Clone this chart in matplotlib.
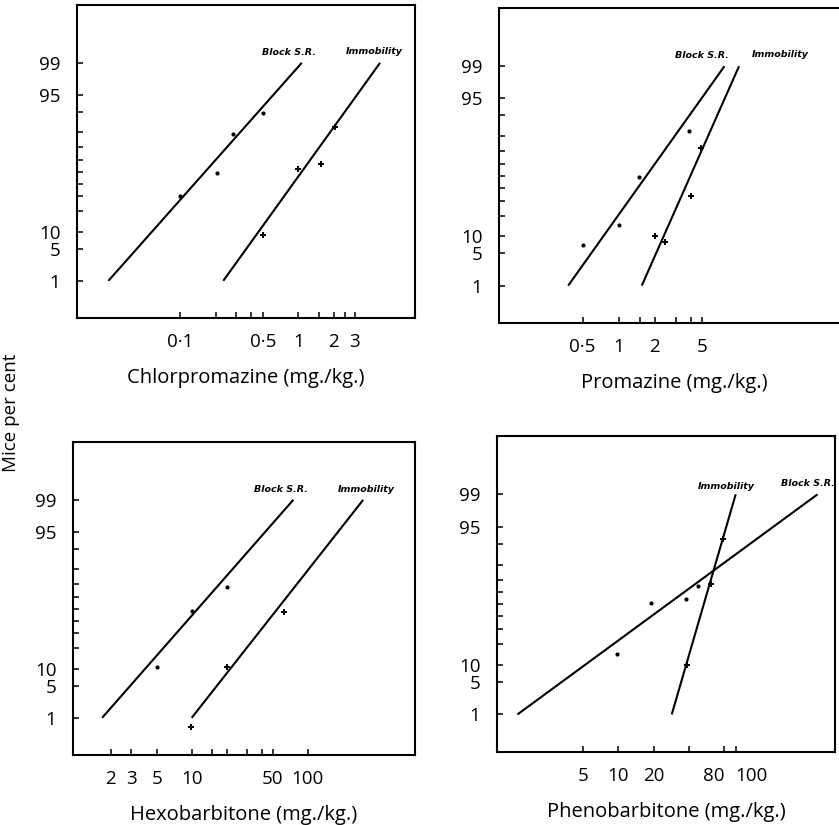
import numpy as np
import matplotlib
matplotlib.use("Agg")
import matplotlib.pyplot as plt
from matplotlib.ticker import FixedLocator, FixedFormatter, NullFormatter
from statistics import NormalDist

# ---------------- data ----------------
drugs = ["Chlorpromazine (mg./kg.)", "Promazine (mg./kg.)",
         "Hexobarbitone (mg./kg.)", "Phenobarbitone (mg./kg.)"]

# fitted lines (dose at 1 % and 99 %)
block_line_x = [[0.0248, 1.07], [0.38, 7.63], [1.69, 75.2], [1.38, 498.0]]
immob_line_x = [[0.232, 4.91], [1.56, 10.1], [10.0, 301.0], [28.5, 100.0]]
line_y = [1, 99]

# observed points
block_pts_x = [[0.1, 0.207, 0.28, 0.5], [0.5, 1.01, 1.48, 3.85],
               [5, 10, 20], [9.7, 18.8, 38, 47.8]]
block_pts_y = [[30, 49, 79, 89.4], [7, 15, 49, 83],
               [10.8, 48, 68], [14.8, 50.8, 54.8, 65]]
immob_pts_x = [[0.5, 1.0, 1.56, 2.04], [2.0, 2.45, 4.0, 4.82],
               [9.8, 20, 62.5], [38.7, 61.3, 78]]
immob_pts_y = [[8.9, 52, 57, 83], [10, 7.9, 33.7, 72],
               [0.6, 10.6, 47], [9.9, 67, 91.5]]

# axis ticks
x_major = [[0.1, 0.5, 1, 2, 3], [0.5, 1, 2, 5], [2, 3, 5, 10, 50, 100], [5, 10, 20, 80, 100]]
x_labels = [["0·1", "0·5", "1", "2", "3"], ["0·5", "1", "2", "5"],
            ["2", "3", "5", "10", "50", "100"], ["5", "10", "20", "80", "100"]]
x_minor = [[0.2, 0.3, 0.4, 1.5, 2.5], [1.5, 3, 4], [15, 20, 30, 40], [40]]
y_major = [1, 5, 10, 95, 99]
y_labels = ["1", "5", "10", "95", "99"]
y_minor = [20, 30, 40, 50, 60, 70, 80, 90]
ylabel = "Mice per cent"
block_name = "Block S.R."
immob_name = "Immobility"

# ---------------- layout ----------------
W, H = 839, 825
fig = plt.figure(figsize=(W / 100, H / 100), dpi=100)
plt.rcParams['font.family'] = ['Open Sans', 'DejaVu Sans']

# axes boxes in pixels: left, right, top, bottom
boxes = [(77, 415, 5, 318), (499, 850, 8, 323), (73, 415, 442, 755), (497, 835, 436, 752)]
xlims = [(0.01346, 9.69), (0.1006, 85.0), (0.948, 841.0), (0.924, 702.0)]
# horizontal alignment of individual x tick labels (crowded ones nudged apart)
x_label_ha = [None, None, None, ['center', 'center', 'center', 'right', 'left']]

nd = NormalDist()


def fwd(y):
    y = np.asarray(y, dtype=float)
    p = np.clip(y / 100.0, 1e-9, 1 - 1e-9)
    out = np.full(p.shape, np.nan)
    ok = np.isfinite(p)
    out[ok] = [nd.inv_cdf(v) for v in p[ok]]
    return out


def inv(z):
    z = np.asarray(z, dtype=float)
    out = np.full(z.shape, np.nan)
    ok = np.isfinite(z)
    out[ok] = [nd.cdf(v) * 100.0 for v in z[ok]]
    return out


ylim = (nd.cdf(-3.12) * 100, nd.cdf(3.56) * 100)

# label offsets (points) relative to line top ends
block_off = [(-9, 4, 'center'), (-16, 4.5, 'center'), (-9, 4.5, 'center'), (-26, 4.5, 'left')]
immob_off = [(-4, 5, 'center'), (30, 5, 'center'), (2.5, 4.5, 'center'), (-7, 2.5, 'center')]

for i in range(4):
    l, r, t, b = boxes[i]
    ax = fig.add_axes([l / W, 1 - b / H, (r - l) / W, (b - t) / H])
    ax.set_xscale('log')
    ax.set_yscale('function', functions=(fwd, inv))
    ax.set_xlim(*xlims[i])
    ax.set_ylim(*ylim)

    ax.plot(block_line_x[i], line_y, color='black', lw=1.5, solid_capstyle='butt')
    ax.plot(immob_line_x[i], line_y, color='black', lw=1.5, solid_capstyle='butt')
    ax.plot(block_pts_x[i], block_pts_y[i], 'o', color='black', ms=3.0, mew=0)
    ax.plot(immob_pts_x[i], immob_pts_y[i], 'P', color='black', ms=4.5, mew=0)

    dx, dy, ha = block_off[i]
    ax.annotate(block_name, xy=(block_line_x[i][1], line_y[1]), xytext=(dx, dy),
                textcoords='offset points', ha=ha, va='bottom', fontsize=6.8,
                fontweight='bold', fontstyle='italic', family='DejaVu Sans',
                annotation_clip=False, clip_on=True)
    dx, dy, ha = immob_off[i]
    ax.annotate(immob_name, xy=(immob_line_x[i][1], line_y[1]), xytext=(dx, dy),
                textcoords='offset points', ha=ha, va='bottom', fontsize=6.8,
                fontweight='bold', fontstyle='italic', family='DejaVu Sans',
                annotation_clip=False, clip_on=True)

    ax.xaxis.set_major_locator(FixedLocator(x_major[i]))
    ax.xaxis.set_major_formatter(FixedFormatter(x_labels[i]))
    ax.xaxis.set_minor_locator(FixedLocator(x_minor[i]))
    ax.xaxis.set_minor_formatter(NullFormatter())
    ax.yaxis.set_major_locator(FixedLocator(y_major))
    ax.yaxis.set_major_formatter(FixedFormatter(y_labels))
    ax.yaxis.set_minor_locator(FixedLocator(y_minor))
    ax.yaxis.set_minor_formatter(NullFormatter())

    ax.tick_params(which='both', direction='in', length=4.5, width=1.1,
                   top=False, right=False, labelsize=13.5)
    ax.tick_params(axis='x', which='both', pad=11)
    ax.tick_params(axis='y', which='both', pad=12)
    for s in ax.spines.values():
        s.set_linewidth(1.5)
    ax.set_xlabel(drugs[i], fontsize=14.5, labelpad=12)

    if x_label_ha[i] is not None:
        ticks = ax.xaxis.get_major_ticks(len(x_major[i]))
        for tk, h in zip(ticks, x_label_ha[i]):
            tk.label1.set_horizontalalignment(h)

fig.text(0.013, 0.50, ylabel, rotation=90, ha='center', va='center', fontsize=13.5)

fig.savefig("out.png", dpi=100)
